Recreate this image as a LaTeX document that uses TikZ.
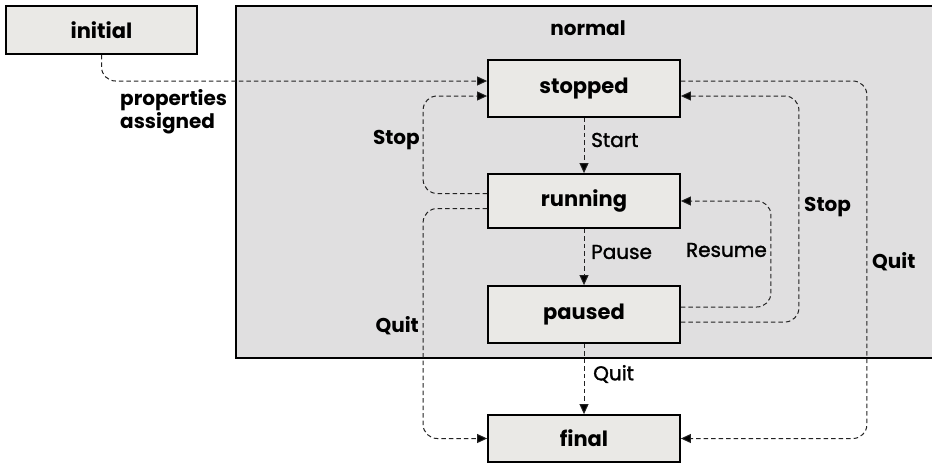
\documentclass[tikz,border=0pt]{standalone}
\usepackage{fontspec}
\setmainfont{Poppins}
\newfontfamily\midfont[FakeBold=1.6]{Poppins}
\usetikzlibrary{arrows.meta,calc}
\definecolor{statefill}{HTML}{EAE9E6}
\definecolor{groupfill}{HTML}{E0DFE0}
\definecolor{flowcol}{HTML}{222222}
\tikzset{
  statebox/.style={draw=black, line width=1.8pt, fill=statefill,
    minimum width=192pt, inner sep=0pt, font=\fontsize{21}{23}\selectfont\bfseries},
  flow/.style={draw=flowcol, line width=1pt, dash pattern=on 4.5pt off 3pt,
    rounded corners=14pt, -{Triangle[length=10pt,width=9pt,fill=black]}},
  lbl/.style={font=\fontsize{20}{22}\selectfont\midfont, inner sep=0pt, text=black},
  blbl/.style={font=\fontsize{20}{23}\selectfont\bfseries, inner sep=0pt, text=black},
}
\begin{document}
\begin{tikzpicture}[x=1pt,y=-1pt]
\useasboundingbox (0,0) rectangle (932,466);
\clip (0,0) rectangle (932,466);
% composite state
\fill[groupfill] (236,6) rectangle (940,358);
\draw[line width=2.2pt] (940,6) -- (236,6) -- (236,358) -- (940,358);
\node[blbl] (normal) at (588,28) {normal};
% states
\node[statebox, minimum width=191pt, minimum height=48pt] (initial) at (101.5,30) {initial};
\node[statebox, minimum height=57pt] (stopped) at (584,88.5) {stopped};
\node[statebox, minimum height=54pt] (running) at (584,201) {running};
\node[statebox, minimum height=57pt] (paused) at (584,314.5) {paused};
\node[statebox, minimum height=47pt] (final) at (584,438.5) {final};
% transitions
\draw[flow] (initial.south) |- ([yshift=7.5pt]stopped.west);
\draw[flow] (stopped.south) -- (running.north);
\draw[flow] (running.south) -- (paused.north);
\draw[flow] (paused.south) -- (final.north);
\draw[flow] ([yshift=7.5pt]running.west) -- ++(-64,0) |- ([yshift=-7.5pt]stopped.west);
\draw[flow] ([yshift=-7.5pt]running.west) -- ++(-64,0) |- (final.west);
\draw[flow] ([yshift=7.5pt]paused.east) -- ++(90,0) |- (running.east);
\draw[flow] ([yshift=-7.5pt]paused.east) -- ++(118,0) |- ([yshift=-7.5pt]stopped.east);
\draw[flow] ([yshift=7.5pt]stopped.east) -- ++(186,0) |- (final.east);
% transition labels
\node[blbl, align=left, anchor=west] (assigned) at (120,112) {properties\\assigned};
\node[lbl, anchor=west] (start) at (591,140) {Start};
\node[lbl, anchor=west] (pause) at (591,252) {Pause};
\node[lbl, anchor=west] (quitlow) at (593,374) {Quit};
\node[blbl, anchor=east] (stopleft) at (420,140) {Stop};
\node[blbl, anchor=east] (quitleft) at (419,326) {Quit};
\node[lbl, anchor=east] (resume) at (767,250) {Resume};
\node[blbl, anchor=west] (stopright) at (804,207) {Stop};
\node[blbl, anchor=west] (quitright) at (872,262) {Quit};
\end{tikzpicture}
\end{document}
